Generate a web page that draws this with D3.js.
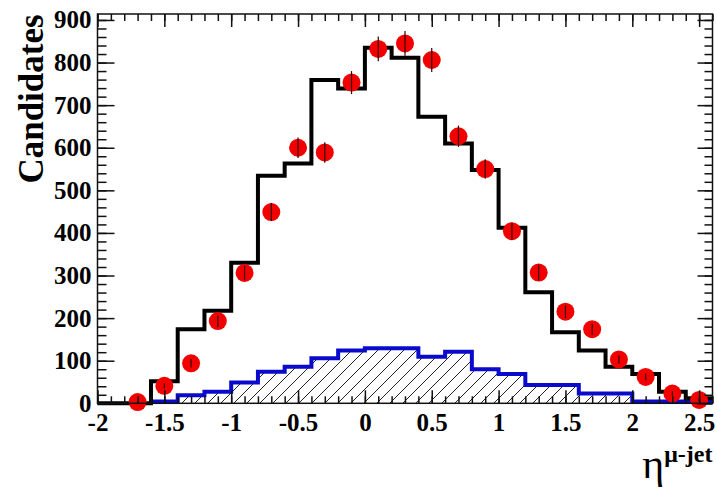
<!DOCTYPE html>
<html>
<head>
<meta charset="utf-8">
<script src="https://cdn.jsdelivr.net/npm/d3@7"></script>
<style>
  html, body { margin: 0; padding: 0; background: #fff; }
  svg { display: block; }
  text { font-family: "Liberation Serif", "DejaVu Serif", serif; }
</style>
</head>
<body>
<svg></svg>
<script>
// bin centres of the eta distribution (bin width 0.2)
const binCenters = [-1.9, -1.7, -1.5, -1.3, -1.1, -0.9, -0.7, -0.5, -0.3, -0.1,
    0.1, 0.3, 0.5, 0.7, 0.9, 1.1, 1.3, 1.5, 1.7, 1.9, 2.1, 2.3, 2.5];
// simulation total (black histogram)
const mcTotal = [0, 0, 52, 174, 217, 330, 534, 563, 759, 739,
    835, 811, 673, 610, 548, 412, 261, 167, 124, 86, 69, 27, 12];
// background component (blue hatched histogram)
const mcBackground = [null, null, 4, 19, 27, 49, 74, 86, 106, 124,
    129, 129, 109, 121, 80, 69, 43, 43, 23, 23, 4, 4, 4];
// data points with errors
const dataEta = [-1.7, -1.5, -1.3, -1.1, -0.9, -0.7, -0.5, -0.3, -0.1, 0.1, 0.3,
    0.5, 0.7, 0.9, 1.1, 1.3, 1.5, 1.7, 1.9, 2.1, 2.3, 2.5];
const dataCounts = [3, 41, 94, 193, 306, 449, 600, 589, 753, 832, 845,
    806, 627, 550, 404, 307, 215, 174, 103, 62, 23, 8];
const dataErrors = [2, 6, 10, 14, 17, 21, 24, 24, 27, 29, 29,
    28, 25, 23, 20, 18, 15, 13, 10, 8, 5, 3];
const xTicks = [-2, -1.5, -1, -0.5, 0, 0.5, 1, 1.5, 2, 2.5];
const yTicks = [0, 100, 200, 300, 400, 500, 600, 700, 800, 900];

const size = {w: 717, h: 490};
const frame = {l: 97.5, r: 712.5, t: 14, b: 403.3};
const binWidth = 0.2;

const svg = d3.select('svg')
    .attr('width', size.w)
    .attr('height', size.h);

const x = d3.scaleLinear().domain([-2, 2.6]).range([frame.l, frame.r]);
const y = d3.scaleLinear().domain([0, 914]).range([frame.b, frame.t]);

// hatch pattern for the background histogram
svg.append('defs').append('pattern')
    .attr('id', 'hatch')
    .attr('patternUnits', 'userSpaceOnUse')
    .attr('width', 13).attr('height', 13)
    .append('path')
    .attr('d', 'M-1,1 l2,-2 M0,13 l13,-13 M12,14 l2,-2')
    .attr('stroke', '#222')
    .attr('stroke-width', 1);

// turn bin values into step outline points
function steps(values) {
    let pts = [];
    values.forEach((v, i) => {
        if (v === null) return;
        pts.push([binCenters[i] - binWidth / 2, v]);
        pts.push([binCenters[i] + binWidth / 2, v]);
    });
    return pts;
}

const line = d3.line().x(d => x(d[0])).y(d => y(d[1]));
const area = d3.area().x(d => x(d[0])).y0(y(0)).y1(d => y(d[1]));

let bgPts = steps(mcBackground);
svg.append('path')
    .attr('d', area(bgPts))
    .attr('fill', 'url(#hatch)');
svg.append('path')
    .attr('d', line([[bgPts[0][0], 0]].concat(bgPts)))
    .attr('fill', 'none')
    .attr('stroke', '#0a0acd')
    .attr('stroke-width', 4);

svg.append('path')
    .attr('d', line(steps(mcTotal)))
    .attr('fill', 'none')
    .attr('stroke', '#000')
    .attr('stroke-width', 4)
    .attr('stroke-linejoin', 'miter');

// data points
let pts = svg.append('g');
pts.selectAll('circle')
    .data(dataEta)
    .enter()
    .append('circle')
    .attr('cx', d => x(d))
    .attr('cy', (d, i) => y(dataCounts[i]))
    .attr('r', 9)
    .attr('fill', '#f20000');
pts.selectAll('line')
    .data(dataEta)
    .enter()
    .append('line')
    .attr('x1', d => x(d)).attr('x2', d => x(d))
    .attr('y1', (d, i) => y(dataCounts[i] - dataErrors[i]))
    .attr('y2', (d, i) => y(dataCounts[i] + dataErrors[i]))
    .attr('stroke', '#300')
    .attr('stroke-width', 1.2);

// axes: ticks pointing into the frame
function styleAxis(g) {
    g.select('.domain').remove();
    g.selectAll('line').attr('stroke', '#111').attr('stroke-width', 1.5);
    g.selectAll('text')
        .attr('font-size', 25)
        .attr('font-weight', 'bold')
        .attr('fill', '#000');
}
const minorX = d3.range(-2, 2.61, 0.1);
const minorY = d3.range(0, 914, 20);

svg.append('g').attr('transform', `translate(0,${frame.b})`)
    .call(d3.axisBottom(x).tickValues(minorX).tickSize(-7).tickFormat(''))
    .call(styleAxis);
svg.append('g').attr('transform', `translate(0,${frame.b})`)
    .call(d3.axisBottom(x).tickValues(xTicks).tickSize(-13).tickPadding(10)
        .tickFormat(d => String(d)))
    .call(styleAxis);
svg.append('g').attr('transform', `translate(0,${frame.t})`)
    .call(d3.axisTop(x).tickValues(minorX).tickSize(-7).tickFormat(''))
    .call(styleAxis);
svg.append('g').attr('transform', `translate(0,${frame.t})`)
    .call(d3.axisTop(x).tickValues(xTicks).tickSize(-13).tickFormat(''))
    .call(styleAxis);

svg.append('g').attr('transform', `translate(${frame.l},0)`)
    .call(d3.axisLeft(y).tickValues(minorY).tickSize(-9).tickFormat(''))
    .call(styleAxis);
svg.append('g').attr('transform', `translate(${frame.l},0)`)
    .call(d3.axisLeft(y).tickValues(yTicks).tickSize(-17).tickPadding(6))
    .call(styleAxis);
svg.append('g').attr('transform', `translate(${frame.r},0)`)
    .call(d3.axisRight(y).tickValues(minorY).tickSize(-8).tickFormat(''))
    .call(styleAxis);
svg.append('g').attr('transform', `translate(${frame.r},0)`)
    .call(d3.axisRight(y).tickValues(yTicks).tickSize(-15).tickFormat(''))
    .call(styleAxis);

// frame
svg.append('rect')
    .attr('x', frame.l).attr('y', frame.t)
    .attr('width', frame.r - frame.l).attr('height', frame.b - frame.t)
    .attr('fill', 'none')
    .attr('stroke', '#111')
    .attr('stroke-width', 1.5);

// axis titles
svg.append('text')
    .attr('transform', 'translate(43,99) rotate(-90)')
    .attr('text-anchor', 'middle')
    .attr('font-size', 35)
    .attr('font-weight', 'bold')
    .text('Candidates');

let xt = svg.append('text')
    .attr('x', frame.r)
    .attr('y', 478)
    .attr('text-anchor', 'end');
xt.append('tspan').attr('font-size', 42).text('η');
xt.append('tspan').attr('font-size', 24).attr('font-weight', 'bold')
    .attr('dy', -16).text('μ-jet');
</script>
</body>
</html>
